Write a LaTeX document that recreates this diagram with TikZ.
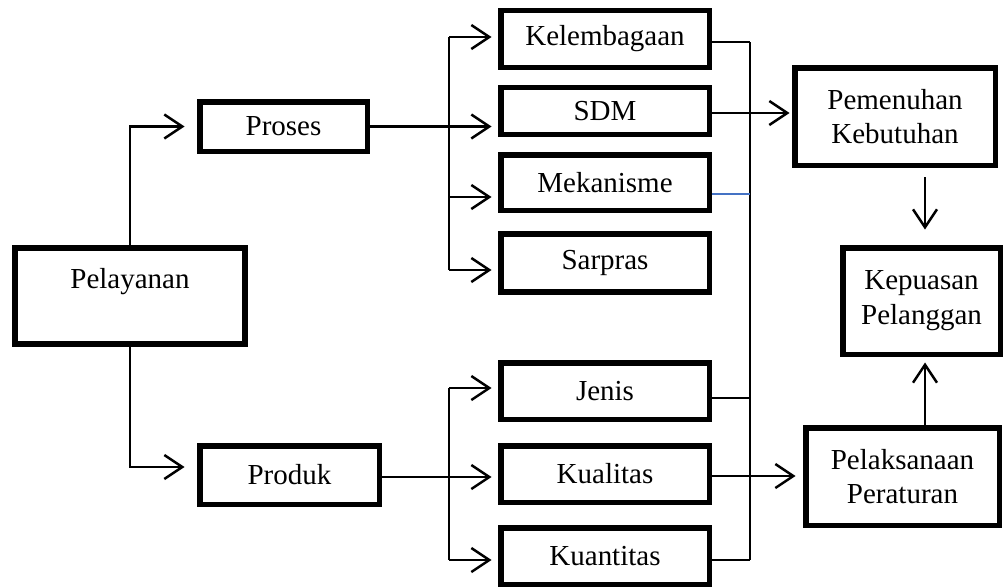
\documentclass[tikz,border=0pt]{standalone}
\usepackage{fontspec}
\setmainfont{Liberation Serif}
\usetikzlibrary{arrows.meta}
\definecolor{black}{RGB}{0,0,0}
\definecolor{line_blue}{RGB}{68,114,196}

\begin{document}
\begin{tikzpicture}[x=0.02cm,y=-0.02cm,
	box/.style={draw=black,line width=3.4pt,inner sep=0pt,align=center,font=\fontsize{16.5}{19.8}\selectfont},
	link/.style={draw=black,line width=1.4pt},
	arr/.style={link,-{Straight Barb[length=3.6mm,width=4.8mm]}},
	tie/.style={draw=black,line width=1pt}]
	\useasboundingbox (0,0) rectangle (1007,586);

	\node[box,minimum width=4.62cm,minimum height=1.92cm] (pel) at (130,296) {Pelayanan\\~};
	\node[box,minimum width=3.36cm,minimum height=1cm] (proses) at (283.5,126.5) {Proses};
	\node[box,minimum width=3.6cm,minimum height=1.18cm] (produk) at (289.5,475) {Produk};

	\node[box,minimum width=4.18cm,minimum height=1.14cm] (kel) at (605,39) {Kelembagaan};
	\node[box,minimum width=4.18cm,minimum height=0.94cm] (sdm) at (605,111) {SDM};
	\node[box,minimum width=4.18cm,minimum height=1.12cm] (mek) at (605,182.5) {Mekanisme};
	\node[box,minimum width=4.18cm,minimum height=1.16cm] (sar) at (605,263) {Sarpras};
	\node[box,minimum width=4.18cm,minimum height=1.14cm] (jen) at (605,391) {Jenis};
	\node[box,minimum width=4.18cm,minimum height=1.14cm] (kual) at (605,474) {Kualitas};
	\node[box,minimum width=4.18cm,minimum height=1.14cm] (kuan) at (605,556) {Kuantitas};

	\node[box,minimum width=4.02cm,minimum height=1.96cm] (pem) at (895,116.5) {Pemenuhan\\Kebutuhan};
	\node[box,minimum width=3.16cm,minimum height=2.14cm] (kep) at (921.5,301) {Kepuasan\\Pelanggan};
	\node[box,minimum width=3.88cm,minimum height=1.96cm] (pela) at (902.5,476.5) {Pelaksanaan\\Peraturan};

	% pelayanan ke proses dan produk
	\draw[arr,shorten >=0.24cm] (pel.north) |- (proses.west);
	\draw[arr,shorten >=0.24cm] (pel.south) |- ([yshift=0.16cm]produk.west);

	% cabang proses
	\draw[arr,shorten >=0.12cm] (proses.east) -- (proses.east -| sdm.west);
	\draw[link] (449,37) -- (449,270);
	\foreach \n/\y in {kel/37,mek/197,sar/270}
		\draw[arr,shorten >=0.12cm] (449,\y) -- (\n.west |- 0,\y);

	% cabang produk
	\draw[arr,shorten >=0.12cm] (produk.east |- 0,477) -- (kual.west |- 0,477);
	\draw[link] (449,388) -- (449,560);
	\foreach \n/\y in {jen/388,kuan/560}
		\draw[arr,shorten >=0.12cm] (449,\y) -- (\n.west |- 0,\y);

	% garis kanan
	\draw[tie] (750,42) -- (750,560);
	\foreach \n/\y in {kel/42,jen/398,kuan/560}
		\draw[tie] (\n.east |- 0,\y) -- (750,\y);
	\draw[tie,line_blue] (mek.east |- 0,194) -- (750,194);

	\draw[arr,shorten >=0.04cm] (sdm.east |- 0,113) -- (pem.west |- 0,113);
	\draw[arr,shorten >=0.14cm] (kual.east |- 0,476) -- (pela.west |- 0,476);
	\draw[arr,shorten <=0.18cm,shorten >=0.3cm] (pem.south -| 925,0) -- (kep.north -| 925,0);
	\draw[arr,shorten >=0.1cm] (pela.north -| 925,0) -- (kep.south -| 925,0);
\end{tikzpicture}
\end{document}
